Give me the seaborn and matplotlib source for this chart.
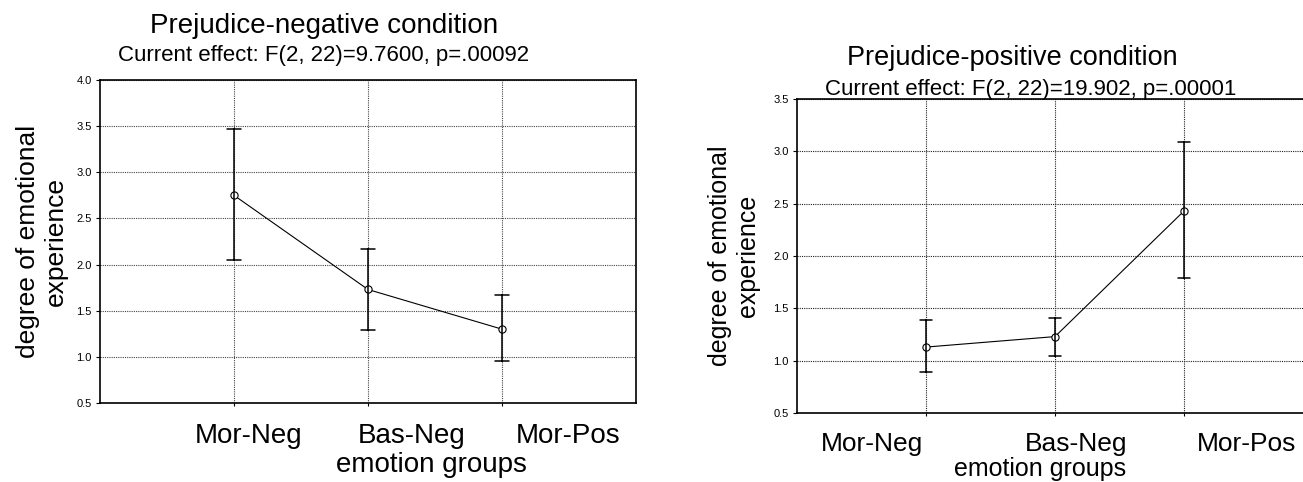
import numpy as np
import pandas as pd
import matplotlib
matplotlib.use("Agg")
import matplotlib.pyplot as plt
import seaborn as sns
from matplotlib.transforms import ScaledTranslation

# ---------------- data ----------------
categories = ["Mor-Neg", "Bas-Neg", "Mor-Pos"]

neg_mean = [2.75, 1.73, 1.30]
neg_low = [2.05, 1.29, 0.95]
neg_high = [3.47, 2.17, 1.67]

pos_mean = [1.13, 1.23, 2.43]
pos_low = [0.89, 1.04, 1.79]
pos_high = [1.39, 1.41, 3.09]

neg_yticks = [0.5, 1.0, 1.5, 2.0, 2.5, 3.0, 3.5, 4.0]
pos_yticks = [0.5, 1.0, 1.5, 2.0, 2.5, 3.0, 3.5]

neg_title = "Prejudice-negative condition"
neg_subtitle = "Current effect: F(2, 22)=9.7600, p=.00092"
pos_title = "Prejudice-positive condition"
pos_subtitle = "Current effect: F(2, 22)=19.902, p=.00001"
y_label = "degree of emotional\nexperience"
x_label = "emotion groups"


def long_table(means, lows, highs):
    rows = []
    for c, m, lo, hi in zip(categories, means, lows, highs):
        for v in (lo, m, hi):
            rows.append({"group": c, "value": v})
    return pd.DataFrame(rows)


neg_df = long_table(neg_mean, neg_low, neg_high)
pos_df = long_table(pos_mean, pos_low, pos_high)

# ---------------- style ----------------
sns.set_theme(style="white")
plt.rcParams["font.family"] = ["Liberation Sans", "DejaVu Sans"]
plt.rcParams["text.color"] = "black"
plt.rcParams["axes.labelcolor"] = "black"
plt.rcParams["xtick.color"] = "black"
plt.rcParams["ytick.color"] = "black"

W, H = 1303, 482
fig = plt.figure(figsize=(W / 100, H / 100), dpi=100)
axL = fig.add_axes([100 / W, 1 - 403 / H, 536 / W, 323 / H])
axR = fig.add_axes([797 / W, 1 - 413 / H, 516 / W, 314 / H])


def draw(ax, df, yticks, capsize, grid_color, label_dx, label_dy,
         xlab_pos, ylab_x, tick_fs, xlab_fs, ylab_fs):
    sns.pointplot(
        data=df, x="group", y="value", order=categories,
        estimator="median",
        errorbar=lambda v: (np.min(v), np.max(v)),
        color="black", markers="o", capsize=capsize,
        err_kws={"linewidth": 1.1},
        linewidth=0.8, markersize=5.2, markerfacecolor="white",
        markeredgewidth=0.8, ax=ax,
    )
    ax.set_xlim(-1, 3)
    ax.set_ylim(yticks[0], yticks[-1])
    ax.set_yticks(yticks)
    ax.set_yticklabels([f"{t:.1f}" for t in yticks])
    ax.set_xticks(range(len(categories)))
    ax.set_xticklabels(categories)
    ax.set_axisbelow(True)
    ax.grid(True, axis="both", color=grid_color, linestyle=(0, (1, 1)),
            linewidth=0.8)
    for s in ax.spines.values():
        s.set_visible(True)
        s.set_color("black")
        s.set_linewidth(1.2)
    ax.tick_params(axis="y", labelsize=8, length=3, width=0.8,
                   direction="out", left=True, pad=3, colors="black")
    ax.tick_params(axis="x", labelsize=tick_fs, length=2, width=0.8,
                   direction="out", bottom=True, pad=0, colors="black")
    ax.set_ylabel(y_label, fontsize=ylab_fs, linespacing=1.2, color="black")
    ax.yaxis.set_label_coords(ylab_x, 0.5)
    ax.set_xlabel(x_label, fontsize=xlab_fs, va="baseline", color="black")
    ax.xaxis.set_label_coords(*xlab_pos)
    base = ax.get_xaxis_transform()
    for lab, dx in zip(ax.get_xticklabels(), label_dx):
        lab.set_va("baseline")
        lab.set_color("black")
        lab.set_transform(base + ScaledTranslation(dx / 100, -label_dy / 100,
                                                   fig.dpi_scale_trans))


draw(axL, neg_df, neg_yticks, 0.11, "#444444", [15, 44, 66], 40,
     (0.618, -0.2136), -0.06, 20, 20, 19)
draw(axR, pos_df, pos_yticks, 0.10, "#222222", [-54, 21, 63], 38,
     (0.471, -0.1998), -0.072, 19, 18, 18)

fig.text(324 / W, 1 - 33 / H, neg_title, ha="center", va="baseline",
         fontsize=20, color="black")
fig.text(323.5 / W, 1 - 61 / H, neg_subtitle, ha="center", va="baseline",
         fontsize=16, color="black")
fig.text(1012 / W, 1 - 65 / H, pos_title, ha="center", va="baseline",
         fontsize=19.5, color="black")
fig.text(1031 / W, 1 - 95 / H, pos_subtitle, ha="center", va="baseline",
         fontsize=16, color="black")

fig.savefig("out.png", dpi=100)
